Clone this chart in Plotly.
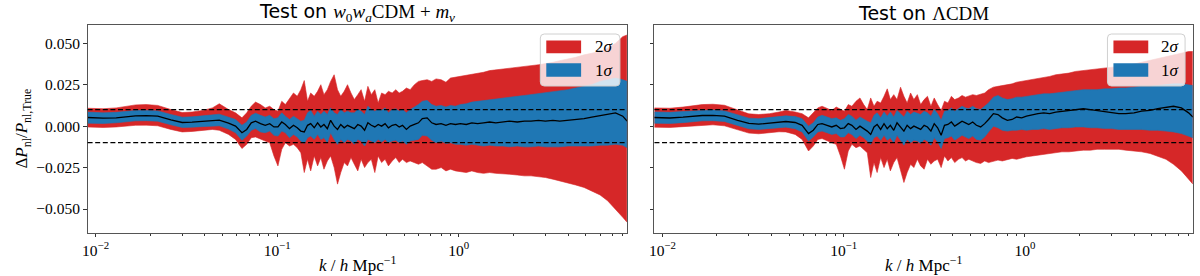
import numpy as np
import plotly.graph_objects as go

# ---------------- data (band values in units of 1e-3) ----------------
k = [0.009, 0.011, 0.013, 0.0166, 0.019, 0.022, 0.026, 0.03, 0.034, 0.039, 0.044, 0.048,
     0.054, 0.059, 0.064, 0.068, 0.072, 0.076, 0.081, 0.086, 0.091, 0.096, 0.101, 0.106,
     0.111, 0.117, 0.123, 0.129, 0.135, 0.141, 0.147, 0.153, 0.16, 0.167, 0.174, 0.181,
     0.189, 0.197, 0.206, 0.215, 0.224, 0.234, 0.244, 0.255, 0.266, 0.278, 0.29, 0.303,
     0.316, 0.33, 0.345, 0.36, 0.376, 0.393, 0.41, 0.43, 0.45, 0.47, 0.49, 0.515, 0.54,
     0.57, 0.6, 0.63, 0.67, 0.71, 0.75, 0.8, 0.85, 0.9, 0.96, 1.02, 1.1, 1.18, 1.27, 1.37,
     1.48, 1.6, 1.75, 1.9, 2.1, 2.3, 2.5, 2.75, 3.0, 3.3, 3.6, 4.0, 4.4, 4.9, 5.4, 6.0,
     6.6, 7.3, 8.0, 8.45]

# Left panel: Test on w0waCDM + m_nu
mean_L = [5.2, 4.8, 5.0, 6.2, 6.3, 6.0, 3.8, 2.2, 2.4, 3.0, 3.4, 3.6,
          1.8, 0.0, -4.0, -2.0, 2.0, 3.0, 1.5, 0.5, 1.5, -0.5, -0.5, 2.5,
          1.0, -1.5, 0.5, -1.0, -3.0, -3.5, 0.5, 1.5, -1.0, 2.0, -0.5, 1.0,
          -1.5, 3.5, 0.0, -2.0, 1.0, -1.0, 0.5, -0.5, -1.5, 1.0, 0.0, -2.5,
          2.0, 0.5, -0.5, 1.0, 0.0, 1.5, -1.0, 0.5, 1.0, -0.5, 0.5, -2.0, 0.0,
          1.0, 2.0, 4.5, 5.0, 2.0, 1.0, 1.5, 0.5, 1.5, 1.0, 1.5, 1.0, 2.0, 1.5, 2.0,
          2.5, 2.0, 2.5, 3.0, 2.5, 3.0, 3.0, 3.5, 3.0, 3.5, 3.0, 3.5, 4.0, 4.5, 5.5, 6.5,
          7.0, 8.0, 6.0, 3.0]
s1lo_L = [1.8, 1.6, 2.0, 3.2, 3.3, 3.0, 0.8, -0.8, -0.6, -0.2, 0.3, 0.2,
          -1.8, -4.0, -8.5, -6.0, -2.5, -1.5, -3.5, -4.0, -3.0, -5.5, -6.0, -3.0,
          -4.0, -7.0, -5.0, -6.5, -9.0, -10.5, -7.0, -6.0, -8.0, -5.0, -8.0, -7.0,
          -10.0, -4.0, -8.0, -11.0, -8.0, -10.0, -8.0, -9.0, -11.0, -8.0, -9.0, -12.0,
          -8.0, -9.0, -10.0, -8.0, -9.5, -8.0, -10.0, -9.0, -8.5, -10.0, -9.0, -11.0, -9.0,
          -8.5, -8.0, -5.5, -6.0, -8.5, -10.0, -9.0, -10.5, -10.0, -11.0, -11.0, -11.5, -11.0, -11.5, -12.0,
          -11.5, -12.0, -12.0, -12.5, -12.0, -12.5, -12.5, -12.0, -12.5, -12.5, -12.5, -12.0, -12.0, -12.0, -12.0, -11.5,
          -11.5, -11.0, -11.5, -13.0]
s1hi_L = [8.5, 8.0, 8.3, 9.4, 9.5, 9.2, 7.0, 5.4, 5.6, 6.2, 6.8, 7.2,
          5.4, 4.0, 0.5, 2.5, 6.5, 7.8, 6.5, 5.5, 6.5, 4.5, 5.0, 8.0,
          6.0, 4.0, 6.0, 4.5, 3.0, 3.5, 8.0, 9.5, 6.0, 9.0, 7.0, 9.0,
          7.0, 11.0, 8.0, 7.0, 10.0, 8.0, 9.0, 8.0, 8.0, 10.0, 9.0, 7.0,
          12.0, 10.0, 9.0, 10.0, 9.5, 11.0, 8.0, 10.0, 10.5, 9.0, 10.0, 8.0, 10.0,
          11.5, 13.0, 15.0, 15.5, 13.0, 12.0, 12.5, 11.5, 12.5, 12.0, 13.0, 13.5, 14.5, 15.0, 15.5,
          16.0, 16.5, 17.0, 17.5, 18.0, 18.5, 19.0, 19.5, 20.0, 20.5, 21.0, 22.0, 23.0, 24.0, 25.0, 27.0,
          28.0, 29.0, 28.0, 27.0]
s2lo_L = [-0.5, -0.8, -0.5, 0.5, 0.6, 0.2, -2.0, -3.5, -3.2, -2.5, -2.0, -2.5,
          -5.0, -8.0, -13.5, -11.0, -7.0, -6.5, -8.0, -9.0, -10.0, -18.0, -24.0, -14.0,
          -10.0, -12.0, -11.0, -13.0, -16.0, -28.0, -20.0, -27.0, -18.0, -24.0, -19.0, -26.0,
          -21.0, -18.0, -25.0, -35.0, -28.0, -22.0, -24.0, -19.0, -23.0, -27.0, -20.0, -25.0,
          -22.0, -20.0, -28.0, -18.0, -22.0, -20.0, -24.0, -21.0, -19.0, -22.0, -20.0, -22.0, -21.0,
          -22.0, -23.0, -22.0, -24.0, -26.0, -26.0, -25.0, -27.0, -26.0, -27.0, -27.5, -28.0, -27.0, -28.0, -28.5,
          -28.0, -28.5, -29.0, -29.0, -29.5, -30.0, -30.0, -30.5, -31.0, -32.0, -33.0, -34.0, -35.5, -37.0, -39.0, -41.5,
          -45.0, -50.0, -55.0, -58.0]
s2hi_L = [10.8, 10.5, 11.0, 12.8, 13.0, 12.5, 10.0, 8.2, 8.5, 9.5, 11.0, 13.5,
          10.0, 8.0, 5.0, 8.0, 12.0, 14.5, 13.0, 11.0, 12.0, 10.0, 9.0, 15.0,
          13.0, 17.0, 20.0, 18.0, 22.0, 27.5, 15.0, 20.0, 18.0, 21.0, 25.0, 19.0,
          22.0, 27.0, 31.0, 22.0, 18.0, 21.0, 25.0, 20.0, 16.0, 19.0, 22.0, 15.0,
          24.0, 19.0, 22.0, 14.0, 20.0, 19.0, 21.0, 20.0, 22.0, 20.0, 21.0, 23.0, 22.0,
          25.0, 27.0, 27.5, 28.0, 27.0, 28.5, 28.0, 26.5, 29.0, 29.5, 30.0, 30.5, 31.5, 32.0, 32.5,
          33.5, 34.0, 34.5, 35.0, 35.5, 36.0, 36.5, 37.0, 37.5, 38.5, 39.5, 40.5, 41.5, 43.0, 44.0, 45.0,
          47.0, 50.0, 54.0, 55.0]

# Right panel: Test on LambdaCDM
mean_R = [5.2, 4.9, 5.4, 6.4, 6.5, 6.0, 3.5, 1.6, 1.2, 1.8, 2.4, 2.8,
          2.2, 0.5, -4.5, -2.5, 1.0, 1.5, 0.5, -0.5, 0.5, -1.5, -1.0, 1.5,
          0.5, -2.0, 0.0, -1.5, -3.0, -5.0, -0.5, 1.0, -2.0, 1.5, -1.5, 0.5,
          -2.5, 2.0, -0.5, -3.0, 0.5, -1.5, 0.0, -1.0, -2.0, 0.5, -0.5, -3.0,
          1.5, -1.0, -5.5, 0.5, 1.0, 2.5, 0.0, 1.5, 3.0, 2.0, 1.0, 2.5, 0.5,
          -0.5, 1.5, 4.0, 7.5, 7.0, 5.0, 3.5, 4.0, 5.5, 5.0, 6.0, 7.0, 7.5, 8.0, 7.5,
          8.5, 9.0, 9.5, 10.0, 10.5, 10.0, 9.5, 8.5, 8.0, 7.5, 7.5, 8.0, 9.0, 9.5, 10.5, 11.5,
          12.0, 11.0, 8.0, 5.5]
s1lo_R = [1.8, 1.6, 2.1, 3.2, 3.3, 2.8, 0.4, -1.6, -2.0, -1.4, -0.8, -0.6,
          -1.6, -3.5, -9.0, -6.5, -3.5, -3.0, -4.0, -5.0, -4.5, -6.5, -6.5, -4.0,
          -5.0, -7.5, -5.5, -7.0, -9.0, -11.0, -7.0, -6.0, -8.5, -5.5, -8.5, -7.0,
          -10.0, -5.5, -8.5, -11.5, -8.0, -10.0, -8.5, -9.0, -10.5, -8.0, -9.0, -11.5,
          -7.0, -9.5, -13.5, -7.5, -7.0, -6.0, -8.5, -7.0, -5.5, -6.5, -7.5, -6.0, -8.0,
          -8.5, -6.5, -3.5, 0.0, -1.0, -2.5, -3.0, -2.5, -2.5, -2.0, -2.5, -2.0, -2.0, -1.5, -2.0,
          -1.5, -1.0, -1.0, -0.5, -0.5, -1.0, -1.0, -1.5, -1.5, -2.0, -2.0, -2.0, -2.0, -2.5, -2.5, -3.0,
          -3.5, -4.5, -6.0, -7.0]
s1hi_R = [8.6, 8.3, 8.8, 9.6, 9.7, 9.2, 6.7, 4.8, 4.5, 5.0, 5.6, 6.2,
          5.8, 4.5, 0.0, 2.0, 5.5, 6.5, 5.5, 4.5, 5.0, 3.5, 4.5, 7.0,
          6.0, 3.5, 5.5, 4.0, 3.0, 2.0, 6.5, 8.0, 5.0, 8.5, 6.0, 8.5,
          5.5, 9.5, 7.5, 5.5, 9.0, 7.0, 8.5, 7.5, 7.0, 9.0, 8.0, 6.0,
          10.0, 7.5, 3.5, 9.0, 9.5, 11.0, 9.0, 10.5, 12.0, 11.0, 10.5, 12.0, 10.5,
          10.0, 12.0, 14.0, 17.5, 18.5, 17.0, 16.0, 16.5, 17.5, 17.5, 18.0, 18.5, 19.0, 19.5, 19.5,
          20.0, 20.5, 21.0, 21.5, 22.0, 22.0, 22.0, 22.5, 22.5, 23.0, 23.0, 23.5, 24.0, 24.0, 24.5, 25.0,
          25.5, 25.5, 25.0, 24.5]
s2lo_R = [-0.6, -0.8, -0.3, 0.6, 0.8, 0.2, -2.2, -4.2, -4.6, -4.0, -3.4, -3.5,
          -5.0, -8.0, -15.0, -12.0, -8.0, -7.5, -9.0, -10.0, -11.0, -18.0, -26.0, -15.0,
          -11.0, -13.0, -12.0, -14.0, -16.0, -31.0, -22.0, -28.0, -19.0, -25.0, -20.0, -27.0,
          -22.0, -19.0, -26.0, -34.0, -28.0, -23.0, -25.0, -20.0, -24.0, -26.0, -20.0, -23.0,
          -21.0, -20.0, -25.0, -18.0, -21.0, -19.0, -22.0, -20.0, -19.0, -21.0, -20.0, -21.0, -22.0,
          -22.5, -21.0, -22.0, -21.0, -20.5, -21.0, -20.0, -19.5, -20.0, -19.0, -18.5, -18.0, -17.5, -17.0, -16.5,
          -16.0, -15.5, -15.5, -15.0, -14.5, -14.5, -14.0, -14.0, -14.0, -14.0, -14.5, -15.0, -15.5, -16.5, -18.0, -20.0,
          -23.0, -27.0, -32.0, -35.0]
s2hi_R = [11.0, 10.8, 11.5, 13.0, 13.2, 12.6, 9.8, 7.4, 7.0, 7.5, 8.5, 9.5,
          8.5, 7.5, 5.0, 8.0, 11.0, 12.0, 10.5, 9.5, 11.5, 10.0, 9.0, 13.0,
          12.0, 15.0, 17.0, 13.0, 10.0, 17.0, 12.0, 15.0, 14.0, 18.0, 22.5, 16.0,
          19.0, 16.0, 23.5, 18.0, 14.0, 20.0, 16.0, 19.0, 13.0, 16.0, 18.0, 12.0,
          17.0, 13.0, 9.5, 15.0, 14.0, 18.0, 16.0, 17.0, 18.5, 17.5, 18.0, 19.0, 18.5,
          19.5, 20.0, 22.0, 23.5, 24.0, 24.5, 25.0, 25.5, 26.5, 27.0, 27.5, 28.0, 29.0, 29.5, 30.0,
          31.0, 31.5, 32.0, 33.0, 33.5, 34.0, 34.5, 35.0, 35.5, 36.0, 36.5, 37.5, 38.5, 39.5, 40.5, 42.0,
          43.0, 44.0, 45.0, 45.0]

thresholds = [0.01, -0.01]
titles = ['Test on <span style="font-family:Liberation Serif"><i>w</i><sub>0</sub><i>w</i><sub><i>a</i></sub>CDM + <i>m</i><sub><i>ν</i></sub></span>',
          'Test on <span style="font-family:Liberation Serif">ΛCDM</span>']
legend_labels = ['2<i>σ</i>', '1<i>σ</i>']
y_tickvals = [-0.05, -0.025, 0.0, 0.025, 0.05]
y_ticktext = ['−0.050', '−0.025', '0.000', '0.025', '0.050']
x_tickvals = [0.01, 0.1, 1]
x_ticktext = ['10<sup>−2</sup>', '10<sup>−1</sup>', '10<sup>0</sup>']
x_minor = [0.02, 0.03, 0.04, 0.05, 0.06, 0.07, 0.08, 0.09,
           0.2, 0.3, 0.4, 0.5, 0.6, 0.7, 0.8, 0.9,
           2, 3, 4, 5, 6, 7, 8]

RED = '#d62728'
BLUE = '#1f77b4'
W, H = 1200, 276
SERIF = 'Liberation Serif'

def e3(a):
    return np.array(a) * 1e-3

panels = [
    (mean_L, s1lo_L, s1hi_L, s2lo_L, s2hi_L),
    (mean_R, s1lo_R, s1hi_R, s2lo_R, s2hi_R),
]

fig = go.Figure()
for i, (m, b_lo, b_hi, r_lo, r_hi) in enumerate(panels):
    xa = 'x' if i == 0 else 'x2'
    ya = 'y' if i == 0 else 'y2'
    fig.add_trace(go.Scatter(x=k, y=e3(r_lo), mode='lines', line=dict(color=RED, width=0.6),
                             xaxis=xa, yaxis=ya, showlegend=False, hoverinfo='skip'))
    fig.add_trace(go.Scatter(x=k, y=e3(r_hi), mode='lines', line=dict(color=RED, width=0.6),
                             fill='tonexty', fillcolor=RED, xaxis=xa, yaxis=ya,
                             showlegend=False, name='2σ'))
    fig.add_trace(go.Scatter(x=k, y=e3(b_lo), mode='lines', line=dict(color=BLUE, width=0.6),
                             xaxis=xa, yaxis=ya, showlegend=False, hoverinfo='skip'))
    fig.add_trace(go.Scatter(x=k, y=e3(b_hi), mode='lines', line=dict(color=BLUE, width=0.6),
                             fill='tonexty', fillcolor=BLUE, xaxis=xa, yaxis=ya,
                             showlegend=False, name='1σ'))
    fig.add_trace(go.Scatter(x=k, y=e3(m), mode='lines', line=dict(color='black', width=1.3),
                             xaxis=xa, yaxis=ya, showlegend=False, name='mean'))

# layout geometry (pixels)
px_l = [(82, 624), (651.7, 1192.7)]
py_top, py_bot = 24.7, 232.7

def fx(x):
    return x / W

def fy(y):
    return 1 - y / H

axis_common = dict(showline=True, linecolor='#555', linewidth=1, mirror=True,
                   showgrid=False, zeroline=False, ticks='outside', ticklen=3.5,
                   tickcolor='#333', tickwidth=1,
                   tickfont=dict(family=SERIF, size=15.5, color='black'))

xrange = [np.log10(0.00904), np.log10(8.43)]
for i in range(2):
    xname = 'xaxis' if i == 0 else 'xaxis2'
    yname = 'yaxis' if i == 0 else 'yaxis2'
    fig.layout[xname] = dict(axis_common, domain=[fx(px_l[i][0]), fx(px_l[i][1])],
                             type='log', range=xrange, tickvals=x_tickvals, ticktext=x_ticktext,
                             anchor='y' if i == 0 else 'y2',
                             minor=dict(tickvals=x_minor, ticklen=2, ticks='outside',
                                        tickcolor='#333', showgrid=False))
    fig.layout[yname] = dict(axis_common, domain=[fy(py_bot), fy(py_top)],
                             range=[-0.0643, 0.0612], tickvals=y_tickvals, ticktext=y_ticktext,
                             showticklabels=(i == 0),
                             anchor='x' if i == 0 else 'x2')

shapes = []
for i in range(2):
    xd = 'x domain' if i == 0 else 'x2 domain'
    ya = 'y' if i == 0 else 'y2'
    for t in thresholds:
        shapes.append(dict(type='line', xref=xd, yref=ya, x0=0, x1=1, y0=t, y1=t,
                           line=dict(color='black', width=1.3, dash='5px,2.6px'), layer='above'))

# legends (drawn as boxes inside each panel)
leg_boxes = [(537, 617), (1107, 1185)]
annotations = []
for i in range(2):
    x0, x1 = leg_boxes[i]
    y0, y1 = 34, 86
    r = 4
    path = (f'M {fx(x0 + r)},{fy(y0)} L {fx(x1 - r)},{fy(y0)} Q {fx(x1)},{fy(y0)} {fx(x1)},{fy(y0 + r)} '
            f'L {fx(x1)},{fy(y1 - r)} Q {fx(x1)},{fy(y1)} {fx(x1 - r)},{fy(y1)} '
            f'L {fx(x0 + r)},{fy(y1)} Q {fx(x0)},{fy(y1)} {fx(x0)},{fy(y1 - r)} '
            f'L {fx(x0)},{fy(y0 + r)} Q {fx(x0)},{fy(y0)} {fx(x0 + r)},{fy(y0)} Z')
    shapes.append(dict(type='path', xref='paper', yref='paper', path=path,
                       fillcolor='rgba(255,255,255,0.8)', line=dict(color='#d0d0d0', width=1),
                       layer='above'))
    for j, (col, yy0, yy1) in enumerate([(RED, 40.5, 53.3), (BLUE, 63.3, 76.7)]):
        shapes.append(dict(type='rect', xref='paper', yref='paper',
                           x0=fx(x0 + 6), x1=fx(x0 + 41), y0=fy(yy1), y1=fy(yy0),
                           fillcolor=col, line=dict(width=0), layer='above'))
        annotations.append(dict(x=fx(x1 - 15.5), y=fy((yy0 + yy1) / 2), xref='paper', yref='paper',
                                text=legend_labels[j], showarrow=False,
                                font=dict(family=SERIF, size=17, color='black'),
                                xanchor='center', yanchor='middle'))

# titles and axis labels
for i in range(2):
    cx = (px_l[i][0] + px_l[i][1]) / 2
    annotations.append(dict(x=fx(cx), y=fy(13), xref='paper', yref='paper', text=titles[i],
                            showarrow=False, font=dict(family='DejaVu Sans', size=19, color='black'),
                            xanchor='center', yanchor='middle'))
    annotations.append(dict(x=fx(cx), y=fy(264), xref='paper', yref='paper',
                            text='<i>k</i> / <i>h</i> Mpc<sup>−1</sup>', showarrow=False,
                            font=dict(family=SERIF, size=17, color='black'),
                            xanchor='center', yanchor='middle'))
annotations.append(dict(x=fx(17), y=fy((py_top + py_bot) / 2), xref='paper', yref='paper',
                        text='Δ<i>P</i><sub>nl</sub>/<i>P</i><sub>nl,True</sub>', showarrow=False,
                        textangle=-90, font=dict(family=SERIF, size=17, color='black'),
                        xanchor='center', yanchor='middle'))

fig.update_layout(width=W, height=H, margin=dict(l=0, r=0, t=0, b=0),
                  paper_bgcolor='white', plot_bgcolor='white', showlegend=False,
                  shapes=shapes, annotations=annotations, hovermode=False)

fig.write_html('out.html', config={'displayModeBar': False, 'staticPlot': True},
               post_script="document.body.style.margin='0px';document.body.style.padding='0px';document.body.style.overflow='hidden';")
